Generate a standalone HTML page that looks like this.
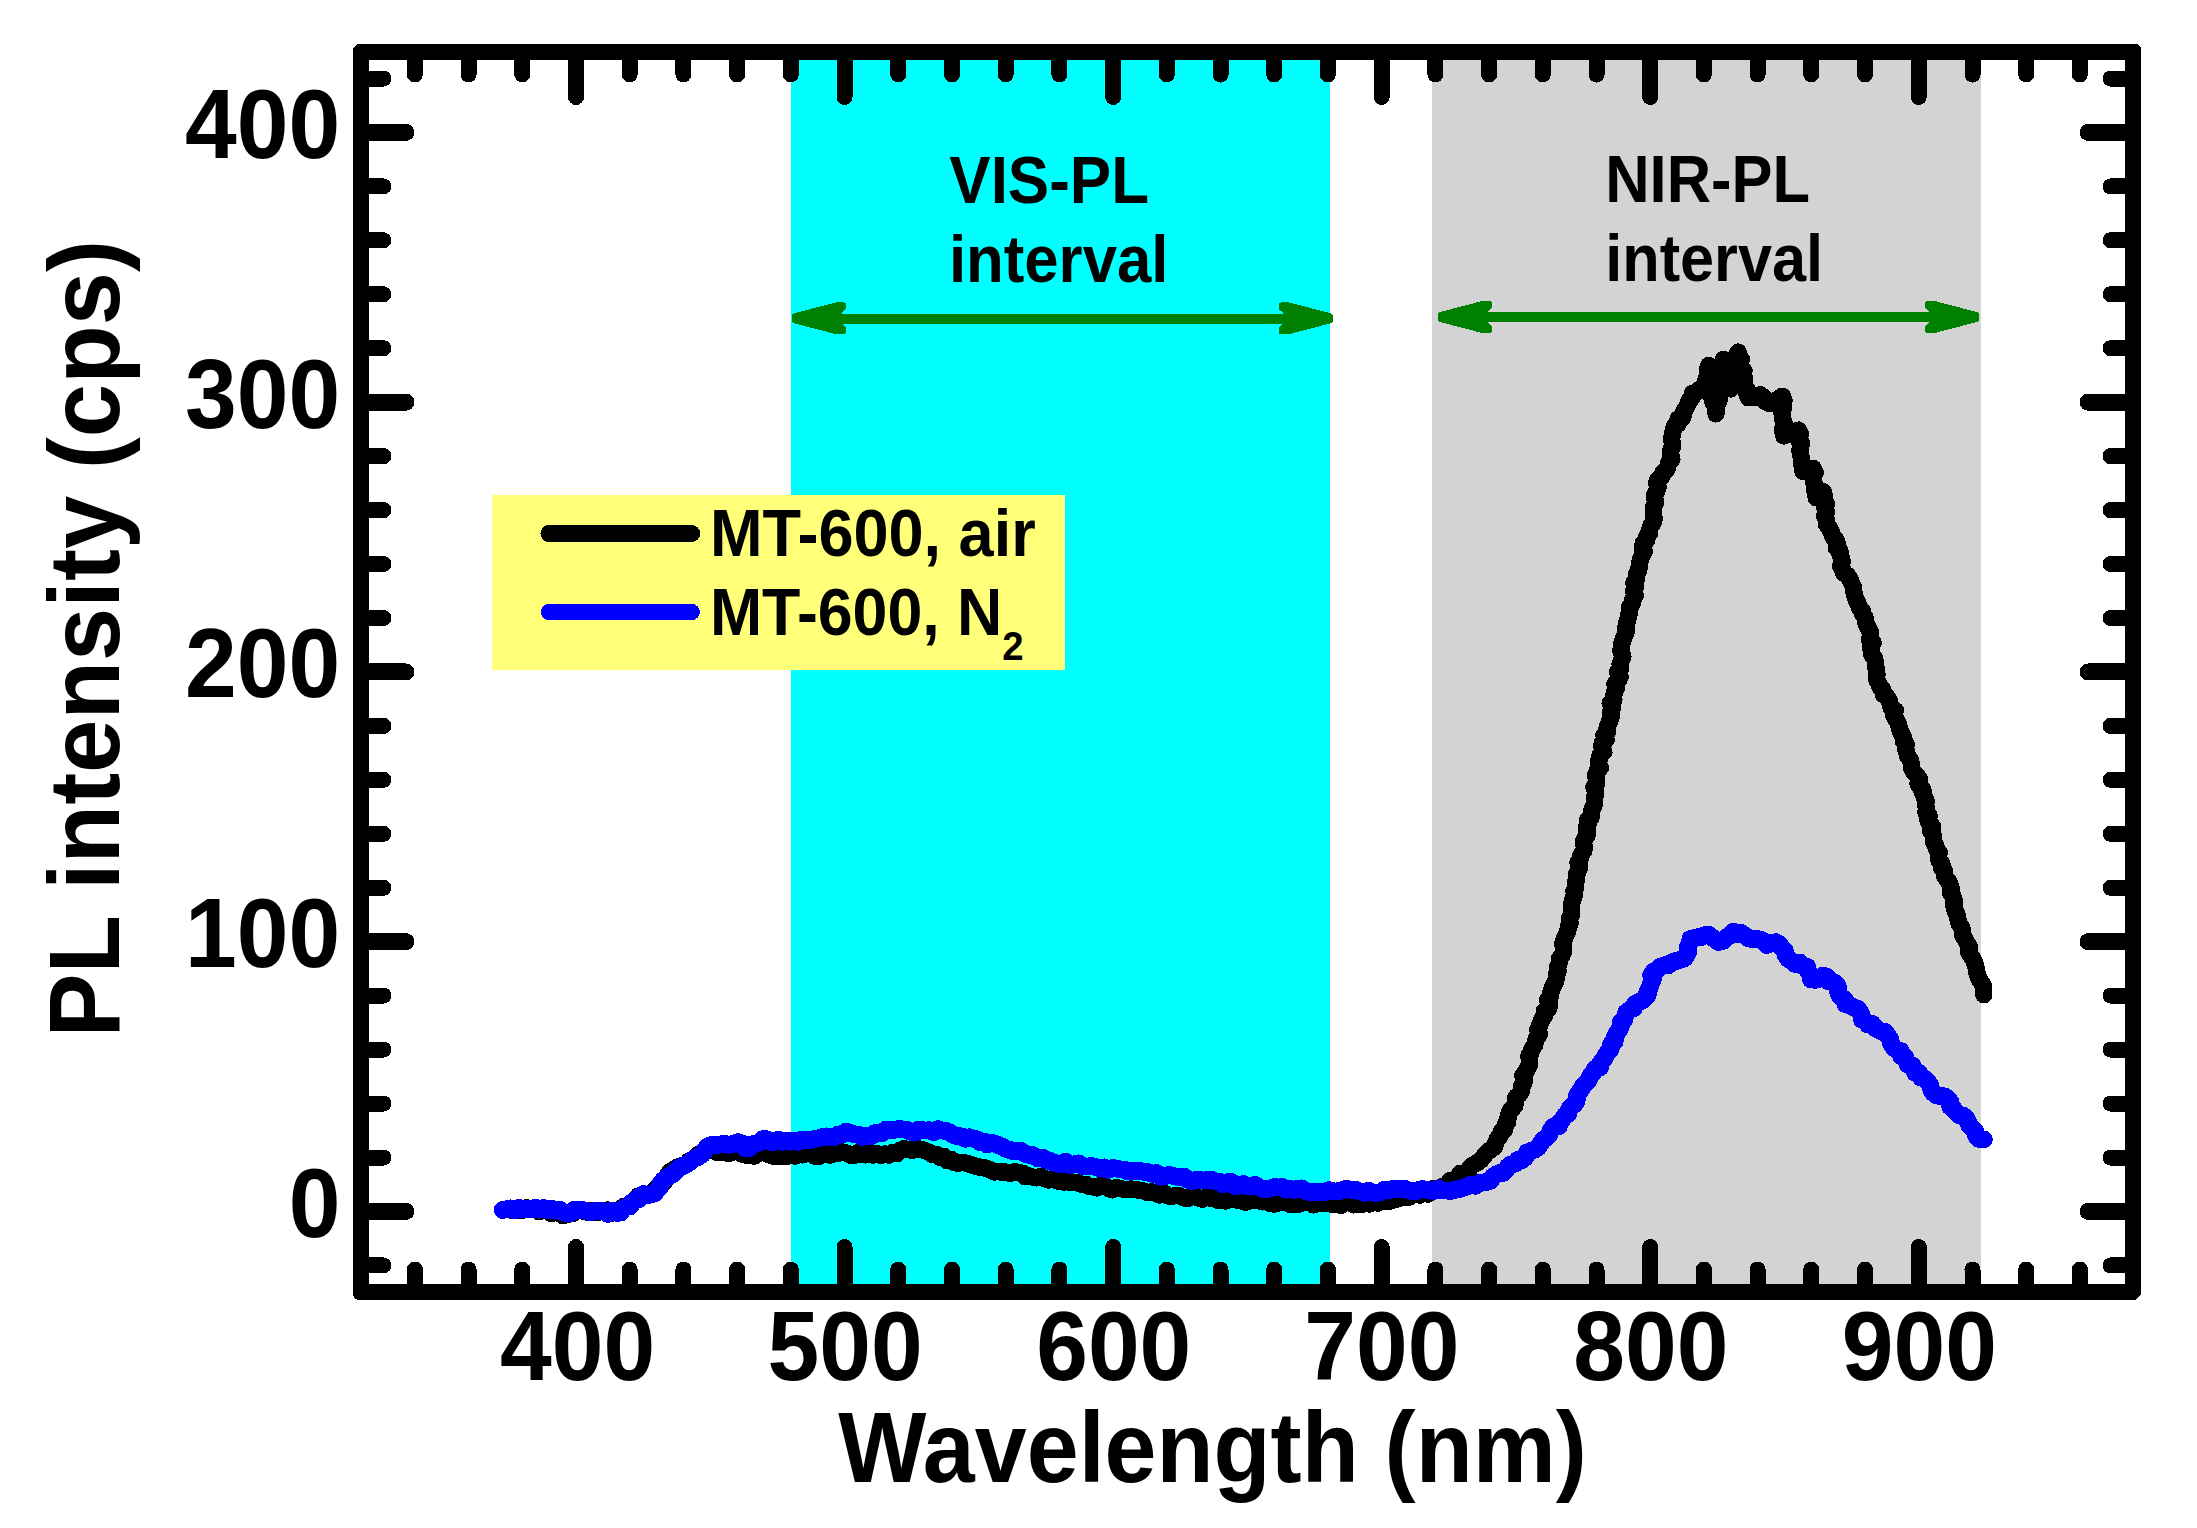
<!DOCTYPE html>
<html lang="en">
<head>
<meta charset="utf-8">
<title>PL intensity vs wavelength</title>
<style>
html,body{margin:0;padding:0;background:#fff;}
body{width:2197px;height:1528px;overflow:hidden;font-family:'Liberation Sans', Arial, Helvetica, sans-serif;}
svg{display:block;}
</style>
</head>
<body>
<svg width="2197" height="1528" viewBox="0 0 2197 1528" font-family="'Liberation Sans', Arial, Helvetica, sans-serif" font-weight="bold" shape-rendering="crispEdges">
<rect width="2197" height="1528" fill="#fff"/>
<!-- shaded intervals -->
<rect x="790.9" y="52.0" width="539.1" height="1240.0" fill="#00ffff"/>
<rect x="1431.9" y="52.0" width="548.9" height="1240.0" fill="#d3d3d3"/>
<!-- legend box -->
<rect x="492" y="494.8" width="573.3" height="175" fill="#ffff7a"/>
<!-- interval captions -->
<g fill="#000">
<text transform="translate(949.30,203.2) scale(0.9296,1)" font-size="66.7">VIS-PL</text>
<text transform="translate(948.90,281.8) scale(0.9253,1)" font-size="66.7">interval</text>
<text transform="translate(1605.22,202.1) scale(0.9212,1)" font-size="66.7">NIR-PL</text>
<text transform="translate(1605.23,281.0) scale(0.9183,1)" font-size="66.7">interval</text>
</g>
<g fill="#008000">
<rect x="832.0" y="314.0" width="460.9" height="10"/><path d="M792.0,315.7 Q792.2,313.8 794.1,313.3 L836.3,302.3 L843.6,302.3 Q846.0,302.3 846.0,304.7 L846.0,309.0 L841.5,313.3 L841.5,323.3 L846.0,327.6 L846.0,331.9 Q846.0,334.3 843.6,334.3 L836.3,334.3 L794.1,323.3 Q792.2,322.8 792.0,320.9 Z"/><path d="M1332.9,315.7 Q1332.7,313.8 1330.8,313.3 L1288.6,302.3 L1281.3,302.3 Q1278.9,302.3 1278.9,304.7 L1278.9,309.0 L1283.4,313.3 L1283.4,323.3 L1278.9,327.6 L1278.9,331.9 Q1278.9,334.3 1281.3,334.3 L1288.6,334.3 L1330.8,323.3 Q1332.7,322.8 1332.9,320.9 Z"/>
<rect x="1477.9" y="312.0" width="461.0" height="10"/><path d="M1437.9,314.4 Q1438.1,312.5 1440.0,312.0 L1482.2,301.0 L1489.5,301.0 Q1491.9,301.0 1491.9,303.4 L1491.9,307.7 L1487.4,312.0 L1487.4,322.0 L1491.9,326.3 L1491.9,330.6 Q1491.9,333.0 1489.5,333.0 L1482.2,333.0 L1440.0,322.0 Q1438.1,321.5 1437.9,319.6 Z"/><path d="M1978.9,314.4 Q1978.7,312.5 1976.8,312.0 L1934.6,301.0 L1927.3,301.0 Q1924.9,301.0 1924.9,303.4 L1924.9,307.7 L1929.4,312.0 L1929.4,322.0 L1924.9,326.3 L1924.9,330.6 Q1924.9,333.0 1927.3,333.0 L1934.6,333.0 L1976.8,322.0 Q1978.7,321.5 1978.9,319.6 Z"/>
</g>
<!-- data -->
<g fill="none" stroke-linejoin="round" stroke-linecap="round">
<path stroke="#000" stroke-width="17.3" d="M502.6,1210.0 L506.6,1208.9 L510.7,1210.0 L514.8,1209.3 L518.8,1210.1 L522.9,1210.1 L526.9,1207.8 L531.0,1209.5 L535.3,1208.0 L539.1,1211.7 L543.4,1209.8 L547.6,1210.1 L551.4,1213.6 L555.7,1212.0 L559.2,1212.9 L562.2,1215.3 L566.0,1215.0 L569.5,1213.8 L573.2,1213.3 L576.1,1210.3 L580.0,1210.5 L583.9,1211.2 L587.9,1212.3 L591.9,1211.0 L595.8,1212.1 L599.8,1211.9 L603.8,1211.4 L607.7,1210.0 L611.2,1213.2 L615.0,1212.5 L618.4,1211.3 L621.2,1208.7 L623.9,1206.2 L628.0,1206.3 L631.6,1204.8 L633.0,1201.1 L636.3,1199.3 L638.2,1196.1 L642.2,1196.7 L645.7,1195.1 L649.6,1195.0 L652.8,1192.5 L654.9,1189.4 L658.5,1187.7 L659.9,1184.0 L663.8,1182.4 L666.0,1179.5 L667.3,1175.7 L670.0,1171.8 L673.8,1169.4 L677.6,1167.1 L681.9,1165.5 L686.5,1164.9 L689.1,1160.9 L693.1,1159.4 L696.5,1156.8 L699.2,1153.9 L702.9,1152.3 L706.0,1150.0 L709.6,1150.2 L713.1,1150.7 L716.4,1152.2 L720.0,1152.5 L724.5,1152.5 L729.0,1153.4 L733.4,1152.1 L737.8,1151.0 L741.3,1154.0 L745.5,1155.0 L750.0,1155.0 L754.1,1156.2 L757.6,1154.2 L761.0,1151.4 L765.0,1152.0 L768.4,1154.4 L772.0,1155.8 L775.8,1156.6 L780.0,1156.1 L783.8,1156.1 L787.6,1156.4 L791.2,1154.0 L795.2,1156.2 L798.9,1154.6 L802.8,1154.9 L806.7,1153.7 L810.5,1152.9 L814.4,1156.0 L818.3,1156.6 L822.2,1154.6 L826.1,1152.6 L830.4,1155.1 L834.2,1153.2 L838.3,1153.2 L842.3,1152.0 L846.1,1152.8 L849.9,1155.0 L853.7,1155.6 L857.8,1152.5 L861.6,1154.6 L865.5,1154.9 L869.3,1152.5 L873.3,1155.1 L877.1,1153.5 L881.1,1155.5 L884.9,1153.9 L889.1,1155.1 L892.7,1152.5 L896.9,1153.7 L900.3,1150.2 L904.0,1148.6 L908.2,1149.5 L912.5,1150.3 L917.1,1148.4 L921.4,1149.4 L925.6,1151.0 L929.4,1152.3 L932.7,1154.7 L937.1,1154.6 L940.2,1157.5 L944.3,1156.6 L947.1,1160.6 L951.3,1159.3 L954.3,1162.7 L958.0,1163.3 L962.0,1162.6 L965.8,1163.0 L969.3,1164.1 L972.9,1165.2 L976.5,1166.6 L980.2,1167.2 L983.9,1167.7 L987.3,1168.8 L990.8,1169.9 L994.0,1172.0 L997.9,1171.2 L1001.4,1172.1 L1005.8,1172.0 L1010.1,1173.3 L1014.6,1171.6 L1018.9,1172.8 L1022.6,1173.1 L1025.3,1176.7 L1029.3,1175.9 L1032.8,1177.1 L1036.3,1177.9 L1040.7,1176.5 L1044.5,1178.7 L1048.5,1180.0 L1052.9,1178.3 L1056.7,1180.8 L1060.3,1181.6 L1063.9,1182.1 L1067.8,1180.1 L1071.2,1182.8 L1075.0,1182.5 L1078.6,1183.0 L1082.0,1184.6 L1086.0,1184.3 L1089.3,1186.6 L1093.1,1186.7 L1096.9,1187.9 L1101.0,1185.3 L1104.9,1185.8 L1108.6,1188.5 L1112.4,1189.9 L1116.4,1187.4 L1120.3,1188.5 L1124.1,1189.3 L1128.0,1189.2 L1132.0,1189.1 L1135.9,1189.8 L1139.9,1190.2 L1143.8,1191.0 L1147.6,1192.5 L1151.7,1191.9 L1155.6,1192.8 L1159.3,1195.0 L1163.6,1192.6 L1167.2,1195.3 L1171.1,1196.6 L1175.3,1195.5 L1179.2,1195.7 L1183.0,1197.4 L1186.8,1198.8 L1190.8,1196.8 L1194.7,1196.8 L1198.6,1197.9 L1202.4,1199.2 L1206.4,1197.0 L1210.3,1198.1 L1214.2,1198.3 L1218.0,1200.5 L1221.9,1199.2 L1225.7,1201.0 L1229.8,1198.5 L1233.6,1199.3 L1237.5,1200.2 L1241.6,1201.1 L1245.6,1202.3 L1249.8,1200.8 L1254.0,1200.2 L1258.1,1200.0 L1262.1,1201.9 L1266.3,1200.9 L1270.2,1203.6 L1274.3,1204.0 L1278.5,1202.9 L1282.4,1201.7 L1286.3,1202.2 L1290.1,1204.4 L1294.1,1203.8 L1297.9,1204.6 L1301.9,1202.8 L1305.8,1202.1 L1309.7,1202.8 L1313.5,1204.9 L1317.5,1202.9 L1321.3,1203.3 L1325.2,1203.7 L1329.1,1203.8 L1333.0,1204.2 L1337.1,1203.6 L1341.3,1205.4 L1345.2,1202.2 L1349.3,1201.3 L1353.6,1204.9 L1357.7,1204.4 L1361.8,1204.6 L1365.8,1202.2 L1370.0,1204.0 L1374.0,1202.0 L1378.0,1203.2 L1381.5,1199.9 L1385.6,1201.5 L1389.5,1201.3 L1393.2,1200.1 L1396.9,1199.1 L1400.6,1197.7 L1404.5,1197.4 L1408.4,1197.5 L1412.0,1195.5 L1415.7,1194.0 L1420.0,1195.1 L1423.5,1193.0 L1427.9,1194.1 L1431.4,1192.0 L1433.6,1188.5 L1438.5,1189.5 L1441.3,1186.9 L1444.9,1185.7 L1448.0,1183.7 L1450.3,1180.4 L1454.7,1180.0 L1457.7,1177.0 L1460.4,1173.2 L1464.9,1173.1 L1468.7,1171.2 L1470.4,1166.8 L1473.8,1164.6 L1477.5,1162.6 L1481.1,1159.9 L1483.8,1156.4 L1486.6,1152.9 L1490.0,1150.0 L1494.1,1147.4 L1495.6,1143.0 L1497.4,1138.7 L1500.5,1135.4 L1501.1,1131.6 L1504.8,1129.3 L1504.9,1125.3 L1507.5,1122.4 L1507.9,1118.6 L1508.8,1115.0 L1509.7,1111.4 L1512.4,1108.6 L1514.9,1105.7 L1515.2,1101.9 L1515.6,1097.5 L1519.4,1094.5 L1521.5,1090.8 L1521.5,1086.2 L1523.7,1083.2 L1524.8,1079.8 L1522.8,1075.4 L1525.7,1072.6 L1527.4,1068.5 L1529.5,1064.6 L1529.3,1060.0 L1528.9,1055.7 L1531.0,1052.3 L1532.3,1048.6 L1534.6,1045.2 L1535.5,1041.4 L1536.9,1037.7 L1539.4,1034.4 L1537.8,1029.7 L1539.2,1026.0 L1540.8,1022.4 L1542.1,1018.7 L1544.8,1015.5 L1544.2,1011.3 L1548.8,1008.7 L1549.5,1004.9 L1547.6,1000.3 L1550.3,997.1 L1550.7,993.2 L1551.8,989.6 L1553.0,985.9 L1555.3,982.6 L1556.1,978.8 L1556.4,974.9 L1558.0,971.4 L1557.7,967.1 L1559.2,963.2 L1559.3,959.0 L1562.0,955.4 L1563.5,951.5 L1563.2,947.2 L1562.9,942.9 L1564.2,939.0 L1565.9,935.1 L1567.8,931.3 L1568.3,927.2 L1570.1,923.4 L1569.2,919.1 L1571.5,915.3 L1571.5,911.2 L1571.4,907.1 L1571.8,903.0 L1573.0,899.1 L1574.5,895.2 L1574.0,891.0 L1575.8,887.1 L1575.7,883.0 L1576.3,879.0 L1576.3,874.8 L1578.2,871.0 L1579.7,867.1 L1578.0,862.6 L1580.2,858.9 L1581.0,854.9 L1583.6,851.2 L1584.6,847.3 L1583.2,842.8 L1584.5,838.9 L1587.0,835.6 L1587.5,831.8 L1586.4,827.6 L1588.1,824.1 L1587.7,820.1 L1591.3,817.1 L1591.6,813.2 L1591.9,809.4 L1594.0,806.0 L1594.3,802.2 L1594.4,798.4 L1595.3,794.8 L1595.2,790.9 L1594.0,786.9 L1596.5,783.6 L1596.8,779.8 L1595.6,775.4 L1597.0,771.5 L1600.3,767.9 L1598.2,763.3 L1599.2,759.3 L1600.0,755.3 L1603.8,751.9 L1601.9,747.3 L1602.1,743.2 L1606.1,739.8 L1604.0,735.2 L1607.7,731.7 L1607.1,727.4 L1608.6,723.6 L1610.1,719.8 L1611.3,716.0 L1610.7,711.8 L1612.4,708.0 L1610.2,703.5 L1613.9,700.2 L1613.7,696.0 L1614.5,692.1 L1616.3,688.4 L1614.9,683.9 L1618.4,680.6 L1620.1,676.9 L1617.7,672.1 L1620.4,668.6 L1620.1,664.3 L1621.5,660.2 L1622.9,656.1 L1621.0,651.6 L1621.2,647.4 L1621.9,643.2 L1623.3,639.1 L1624.7,635.3 L1626.2,631.5 L1625.8,627.2 L1626.7,623.3 L1627.8,619.4 L1628.6,615.4 L1629.8,611.6 L1629.5,607.3 L1632.1,603.8 L1632.7,599.6 L1635.2,595.7 L1633.6,591.1 L1635.6,587.1 L1633.9,582.6 L1636.6,578.7 L1636.5,574.4 L1638.5,570.8 L1639.2,566.9 L1639.7,562.9 L1640.6,559.1 L1642.2,555.4 L1644.2,551.8 L1642.4,547.2 L1643.2,543.3 L1646.7,540.2 L1646.8,536.1 L1649.8,533.2 L1649.8,529.0 L1651.0,525.4 L1653.5,522.3 L1654.2,518.4 L1653.2,514.4 L1653.8,510.5 L1653.8,506.6 L1655.6,502.7 L1654.8,498.7 L1654.7,494.8 L1656.8,491.0 L1658.1,487.1 L1656.6,483.1 L1658.1,479.3 L1661.7,476.8 L1662.9,472.8 L1666.5,470.4 L1667.8,466.4 L1668.9,462.4 L1671.9,459.5 L1671.0,455.2 L1670.4,451.0 L1672.4,446.9 L1672.2,442.7 L1671.6,438.4 L1672.5,434.3 L1673.3,430.1 L1674.6,426.3 L1678.2,423.8 L1678.0,419.1 L1682.9,417.3 L1683.1,412.9 L1685.1,409.5 L1687.3,405.6 L1688.7,401.3 L1691.9,397.9 L1692.5,393.3 L1697.1,391.9 L1700.5,388.6 L1704.3,385.9 L1705.1,381.8 L1706.9,377.8 L1708.3,373.8 L1707.4,369.3 L1708.7,365.3 L1708.4,369.5 L1708.1,373.7 L1710.7,377.4 L1712.2,381.3 L1712.8,385.4 L1711.5,389.7 L1712.3,393.8 L1711.8,398.0 L1712.8,402.0 L1715.8,405.6 L1716.6,409.7 L1716.0,413.9 L1715.6,409.9 L1715.8,405.9 L1718.4,402.3 L1719.5,398.5 L1720.2,394.7 L1718.2,390.4 L1721.1,386.8 L1719.5,382.7 L1720.5,378.8 L1722.2,375.1 L1720.2,370.9 L1720.7,367.0 L1724.2,363.5 L1723.4,359.4 L1725.1,362.9 L1725.8,366.6 L1725.9,370.5 L1726.4,374.3 L1729.9,377.4 L1729.6,381.4 L1730.1,385.2 L1730.8,388.9 L1731.6,384.8 L1731.3,380.5 L1733.6,376.7 L1735.8,372.9 L1734.4,368.4 L1735.8,364.4 L1735.0,360.0 L1736.4,356.0 L1738.1,352.1 L1738.3,356.0 L1741.3,359.4 L1739.2,363.8 L1739.9,367.7 L1744.0,370.7 L1741.5,375.3 L1744.6,378.6 L1743.9,382.7 L1744.8,386.5 L1747.5,389.9 L1746.9,394.1 L1748.4,397.7 L1752.5,397.3 L1756.6,397.0 L1760.2,394.8 L1763.8,397.1 L1765.3,401.4 L1769.0,403.6 L1773.2,403.4 L1776.0,400.5 L1779.0,398.2 L1782.3,396.2 L1784.0,400.1 L1782.6,404.2 L1783.3,408.1 L1782.0,412.2 L1782.3,416.1 L1782.9,420.1 L1784.6,424.0 L1782.8,428.1 L1783.0,432.0 L1783.7,436.0 L1786.9,433.3 L1791.7,434.5 L1795.0,432.2 L1798.5,430.1 L1800.4,434.1 L1797.7,438.5 L1801.2,442.3 L1800.9,446.5 L1799.8,450.8 L1800.8,454.9 L1801.4,459.0 L1801.4,463.1 L1802.6,467.2 L1802.9,471.3 L1806.1,469.6 L1809.4,468.1 L1813.2,468.4 L1815.3,472.4 L1813.2,476.9 L1813.4,481.1 L1814.7,485.2 L1814.3,489.5 L1816.2,493.5 L1816.1,497.8 L1819.2,494.1 L1823.5,491.9 L1824.3,495.9 L1822.7,500.1 L1826.4,503.9 L1824.9,508.1 L1826.3,512.1 L1824.6,516.3 L1826.6,520.2 L1826.4,524.3 L1828.9,527.1 L1830.5,530.4 L1832.0,533.8 L1833.1,537.4 L1835.9,540.0 L1837.3,543.5 L1836.2,547.6 L1839.9,550.7 L1840.0,554.5 L1841.5,558.0 L1842.3,561.7 L1840.5,566.0 L1842.4,569.4 L1843.9,573.4 L1847.9,575.8 L1850.2,579.4 L1851.6,583.4 L1853.6,587.1 L1853.8,591.5 L1854.7,595.7 L1856.2,599.7 L1858.0,603.7 L1859.5,607.7 L1862.3,610.6 L1862.8,614.4 L1865.0,617.5 L1865.3,621.5 L1866.6,625.0 L1868.3,628.3 L1870.2,631.8 L1870.8,635.5 L1869.4,639.6 L1873.1,642.7 L1870.8,647.0 L1871.2,650.7 L1871.7,654.5 L1874.2,657.8 L1875.5,661.9 L1875.7,666.2 L1876.4,670.5 L1877.0,674.7 L1876.5,679.2 L1878.5,683.1 L1880.1,687.2 L1883.0,689.9 L1883.4,694.4 L1886.8,696.8 L1889.0,700.0 L1890.1,703.9 L1891.1,707.8 L1895.3,710.5 L1893.9,715.4 L1895.7,719.0 L1897.8,722.5 L1898.9,726.2 L1899.9,729.9 L1901.3,733.5 L1903.4,736.9 L1903.2,741.0 L1906.2,744.1 L1905.5,748.3 L1906.6,752.0 L1907.8,756.2 L1910.2,759.7 L1911.5,763.9 L1911.8,768.4 L1913.7,772.2 L1916.9,775.5 L1919.4,778.8 L1918.0,783.2 L1919.7,786.7 L1923.0,789.7 L1922.9,793.8 L1924.5,797.3 L1926.2,800.8 L1925.7,805.0 L1926.5,808.7 L1925.9,812.8 L1929.2,815.9 L1928.0,820.1 L1929.6,823.6 L1932.7,826.7 L1930.8,831.1 L1933.1,834.4 L1933.8,838.2 L1933.7,842.2 L1935.6,845.7 L1936.6,849.4 L1939.2,852.6 L1938.5,856.8 L1939.1,860.6 L1941.9,863.8 L1941.6,867.9 L1944.4,871.1 L1944.3,875.2 L1946.4,878.5 L1949.0,881.8 L1950.3,885.4 L1951.3,889.1 L1950.8,893.3 L1953.0,896.7 L1954.2,900.5 L1953.9,904.6 L1954.2,908.5 L1955.9,912.1 L1957.4,915.8 L1958.1,919.6 L1959.0,923.7 L1961.7,927.2 L1962.5,931.4 L1962.8,935.7 L1965.2,939.3 L1967.1,943.1 L1969.5,946.7 L1968.4,951.7 L1970.6,955.3 L1973.0,958.9 L1974.7,962.7 L1975.9,966.6 L1976.4,970.7 L1977.4,974.7 L1978.9,978.5 L1981.2,982.3 L1983.3,986.1 L1983.7,990.4 L1983.8,994.8"/>
<path stroke="#0000ff" stroke-width="17.8" d="M502.6,1210.0 L506.6,1209.2 L510.7,1208.4 L514.8,1210.3 L518.8,1207.8 L522.9,1209.6 L526.9,1208.8 L531.0,1209.2 L535.2,1207.7 L539.2,1209.7 L543.5,1208.1 L547.5,1209.9 L551.7,1208.7 L555.7,1210.7 L559.5,1209.8 L562.6,1211.9 L566.0,1212.9 L570.2,1213.5 L573.7,1210.0 L577.8,1209.6 L582.0,1210.0 L586.3,1210.8 L590.6,1212.3 L595.1,1211.1 L599.5,1210.7 L603.8,1211.4 L607.9,1213.8 L612.7,1210.6 L616.9,1212.9 L620.8,1212.5 L623.1,1208.8 L626.1,1206.7 L630.0,1206.3 L631.5,1202.7 L634.6,1200.7 L638.5,1199.5 L640.2,1196.1 L643.6,1194.1 L647.6,1195.0 L651.3,1194.5 L654.8,1193.2 L656.8,1190.0 L659.8,1187.5 L660.7,1183.3 L663.1,1180.4 L666.0,1177.9 L669.3,1175.7 L673.4,1173.7 L676.4,1170.4 L679.8,1167.4 L683.9,1165.5 L687.7,1163.6 L691.1,1161.0 L694.4,1158.3 L698.5,1156.8 L702.3,1154.2 L704.9,1150.5 L707.2,1146.6 L711.4,1144.9 L716.0,1145.4 L720.3,1144.4 L724.7,1143.9 L729.2,1144.8 L733.5,1143.7 L737.8,1142.2 L742.1,1143.4 L744.7,1147.8 L749.4,1148.1 L751.9,1144.6 L755.8,1143.4 L759.9,1142.4 L762.6,1139.3 L767.4,1139.4 L771.3,1142.2 L774.9,1141.8 L778.4,1139.7 L782.3,1141.8 L785.9,1140.8 L790.0,1141.7 L794.0,1140.8 L798.1,1141.9 L802.1,1139.5 L806.2,1140.1 L810.4,1140.1 L814.4,1139.0 L818.5,1138.2 L822.5,1137.0 L826.6,1136.4 L830.7,1137.1 L834.6,1137.0 L838.2,1134.5 L842.2,1134.6 L845.7,1131.7 L849.9,1132.8 L854.1,1134.3 L858.6,1134.8 L862.7,1136.9 L867.4,1135.7 L871.4,1136.1 L874.7,1133.2 L878.5,1132.8 L882.5,1133.0 L885.7,1129.7 L889.8,1130.6 L893.6,1129.9 L898.1,1129.1 L902.5,1129.4 L906.9,1129.7 L911.1,1132.0 L914.8,1132.7 L918.2,1129.8 L921.9,1129.9 L925.6,1130.6 L929.7,1130.2 L933.7,1132.2 L937.9,1129.1 L941.9,1130.6 L946.0,1130.9 L949.9,1132.5 L953.5,1135.1 L957.6,1136.2 L962.0,1136.4 L965.3,1138.7 L969.5,1137.2 L973.0,1138.6 L976.7,1139.2 L979.9,1142.1 L983.9,1141.5 L987.0,1144.5 L991.6,1142.6 L995.2,1143.9 L998.8,1145.3 L1002.4,1146.6 L1005.7,1148.8 L1009.4,1149.7 L1012.9,1151.1 L1016.9,1150.8 L1020.8,1150.7 L1024.0,1153.3 L1027.6,1154.6 L1031.4,1154.8 L1034.8,1156.3 L1038.2,1158.6 L1042.2,1157.5 L1045.5,1159.7 L1049.4,1160.5 L1052.9,1162.4 L1056.7,1163.4 L1061.1,1164.1 L1065.5,1161.6 L1069.8,1165.0 L1074.2,1164.5 L1078.6,1163.4 L1082.5,1165.9 L1086.9,1166.6 L1091.5,1166.0 L1095.8,1167.1 L1100.0,1168.5 L1104.2,1167.4 L1108.0,1169.9 L1112.3,1168.0 L1116.4,1168.5 L1120.3,1169.5 L1124.4,1169.7 L1128.3,1171.5 L1132.4,1171.3 L1136.5,1170.7 L1140.6,1171.0 L1144.5,1172.0 L1148.5,1172.3 L1152.4,1173.9 L1156.6,1173.0 L1160.2,1176.8 L1164.4,1176.3 L1168.6,1174.9 L1172.5,1175.8 L1176.5,1176.7 L1180.5,1177.2 L1184.6,1176.8 L1188.3,1180.1 L1192.3,1181.2 L1196.5,1179.7 L1200.4,1180.1 L1204.3,1180.6 L1208.4,1179.5 L1212.3,1180.1 L1216.0,1181.5 L1220.0,1181.7 L1223.6,1184.4 L1227.8,1182.2 L1231.8,1182.2 L1235.2,1186.3 L1239.3,1185.2 L1243.4,1184.1 L1247.1,1186.2 L1251.0,1186.5 L1255.0,1184.8 L1258.8,1187.1 L1262.6,1189.1 L1266.5,1188.9 L1270.5,1188.5 L1274.5,1186.9 L1278.4,1187.6 L1282.3,1187.0 L1286.1,1189.7 L1290.0,1189.0 L1293.9,1190.2 L1297.9,1188.6 L1301.8,1188.4 L1305.6,1191.0 L1309.5,1191.9 L1313.4,1191.6 L1317.3,1191.7 L1321.2,1192.0 L1325.1,1191.9 L1329.2,1190.1 L1333.0,1191.4 L1336.9,1191.4 L1340.8,1190.7 L1344.7,1189.3 L1348.6,1189.3 L1352.5,1190.2 L1356.4,1190.1 L1360.4,1191.8 L1364.3,1192.8 L1368.2,1190.7 L1372.1,1192.6 L1376.0,1192.7 L1379.9,1192.5 L1383.8,1190.1 L1387.7,1190.6 L1391.8,1189.3 L1396.0,1189.2 L1400.1,1188.9 L1404.3,1188.8 L1408.5,1190.3 L1412.7,1191.2 L1416.8,1190.8 L1420.9,1189.3 L1425.1,1189.4 L1429.3,1190.4 L1433.4,1191.2 L1437.8,1188.5 L1441.9,1190.4 L1446.2,1190.5 L1450.5,1190.9 L1454.6,1189.9 L1458.7,1189.2 L1462.8,1187.7 L1467.0,1186.6 L1470.9,1184.4 L1475.7,1185.7 L1479.4,1182.9 L1483.8,1182.5 L1487.6,1181.7 L1491.0,1180.4 L1493.0,1176.5 L1496.2,1174.6 L1499.5,1173.1 L1503.6,1172.8 L1506.2,1170.1 L1508.2,1166.3 L1511.3,1164.3 L1515.2,1163.7 L1517.5,1160.1 L1522.5,1159.9 L1525.4,1157.1 L1526.9,1152.5 L1530.9,1151.1 L1534.9,1149.4 L1538.4,1147.1 L1540.7,1143.4 L1543.1,1139.8 L1546.6,1137.5 L1549.4,1134.5 L1550.8,1130.3 L1553.2,1126.8 L1558.8,1126.2 L1560.0,1121.8 L1562.7,1119.2 L1564.6,1115.9 L1568.2,1113.8 L1568.8,1109.6 L1571.3,1106.8 L1574.7,1104.2 L1576.6,1100.7 L1576.6,1096.1 L1578.9,1092.8 L1581.1,1089.5 L1583.0,1086.0 L1586.0,1083.2 L1588.8,1080.1 L1590.3,1075.9 L1593.3,1072.9 L1594.9,1068.9 L1600.0,1067.4 L1600.7,1062.7 L1603.7,1059.7 L1605.4,1055.8 L1607.8,1052.3 L1610.8,1049.1 L1611.0,1044.4 L1614.6,1041.5 L1615.0,1037.0 L1616.9,1033.2 L1618.9,1029.9 L1620.8,1026.5 L1620.9,1022.1 L1624.2,1019.6 L1625.2,1015.7 L1626.5,1012.0 L1630.1,1009.6 L1633.8,1008.1 L1635.2,1003.7 L1638.9,1002.2 L1642.5,1000.5 L1645.0,997.5 L1647.8,994.9 L1648.1,990.8 L1649.8,987.1 L1651.0,983.2 L1652.8,979.5 L1651.2,974.9 L1653.7,971.4 L1657.3,969.8 L1660.3,966.9 L1663.9,965.3 L1668.3,965.3 L1671.4,962.5 L1675.8,961.1 L1680.3,959.8 L1684.6,958.1 L1686.8,954.6 L1688.5,950.9 L1687.9,946.6 L1689.8,943.0 L1690.5,939.0 L1694.0,938.1 L1697.6,937.3 L1701.3,937.1 L1704.6,935.3 L1708.2,934.6 L1711.6,937.1 L1715.1,939.4 L1718.5,941.9 L1723.2,940.8 L1726.3,937.4 L1730.4,935.4 L1733.2,931.6 L1736.6,934.5 L1741.3,933.1 L1744.9,935.5 L1748.3,938.2 L1752.4,939.1 L1756.7,939.0 L1760.9,939.7 L1764.3,941.6 L1767.0,944.9 L1771.3,943.3 L1775.7,942.2 L1779.6,944.2 L1781.7,947.8 L1784.9,950.5 L1785.6,955.1 L1787.9,958.5 L1791.4,960.9 L1794.8,963.9 L1799.7,962.6 L1802.9,966.1 L1807.1,966.8 L1807.8,971.2 L1811.1,974.8 L1811.0,979.5 L1815.4,979.7 L1819.5,978.7 L1822.8,975.6 L1826.9,976.9 L1828.7,981.5 L1833.4,981.9 L1836.6,984.4 L1838.4,988.3 L1838.3,993.1 L1840.7,996.8 L1844.9,999.6 L1845.4,1004.1 L1849.8,1005.5 L1853.9,1007.4 L1858.2,1009.0 L1860.1,1012.4 L1861.9,1015.8 L1862.1,1019.8 L1865.6,1021.1 L1867.9,1024.5 L1872.5,1024.0 L1874.5,1027.8 L1877.8,1029.6 L1881.2,1031.4 L1885.3,1031.9 L1887.6,1035.5 L1890.2,1039.1 L1891.1,1043.6 L1893.5,1047.3 L1896.4,1049.8 L1900.5,1050.9 L1901.1,1056.1 L1905.3,1057.1 L1906.3,1060.9 L1907.6,1064.4 L1912.5,1065.7 L1913.9,1069.2 L1915.1,1072.8 L1919.3,1073.2 L1921.1,1077.7 L1924.9,1078.7 L1927.7,1081.7 L1930.1,1084.8 L1931.1,1088.8 L1932.8,1092.4 L1936.2,1095.3 L1940.3,1096.2 L1944.6,1096.3 L1947.7,1098.9 L1950.4,1101.8 L1950.3,1106.8 L1953.7,1109.1 L1956.3,1112.1 L1958.7,1115.2 L1963.2,1115.7 L1966.3,1118.1 L1968.1,1121.9 L1969.4,1125.7 L1972.3,1128.6 L1975.5,1131.3 L1976.0,1135.6 L1979.1,1139.1 L1983.8,1139.5"/>
</g>
<!-- legend -->
<g stroke-linecap="round">
<path d="M549,533.5 H691.6" stroke="#000" stroke-width="17"/>
<path d="M548.8,612 H691.8" stroke="#0000ff" stroke-width="16.2"/>
</g>
<g fill="#000">
<text transform="translate(709.89,555.9) scale(0.9525,1)" font-size="66.2">MT-600, air</text>
<text transform="translate(709.91,634.8) scale(0.9466,1)" font-size="66.2">MT-600, N<tspan font-size="40.5" dy="25.1">2</tspan></text>
</g>
<!-- axes -->
<g stroke="#000" stroke-width="16" fill="none" stroke-linecap="round">
<path d="M414.9,1288.0 v-18.5 M414.9,56.0 v18.5 M468.6,1288.0 v-18.5 M468.6,56.0 v18.5 M522.3,1288.0 v-18.5 M522.3,56.0 v18.5 M576.0,1288.0 v-41.0 M576.0,56.0 v41.0 M629.7,1288.0 v-18.5 M629.7,56.0 v18.5 M683.4,1288.0 v-18.5 M683.4,56.0 v18.5 M737.1,1288.0 v-18.5 M737.1,56.0 v18.5 M790.8,1288.0 v-18.5 M790.8,56.0 v18.5 M844.5,1288.0 v-41.0 M844.5,56.0 v41.0 M898.3,1288.0 v-18.5 M898.3,56.0 v18.5 M952.0,1288.0 v-18.5 M952.0,56.0 v18.5 M1005.7,1288.0 v-18.5 M1005.7,56.0 v18.5 M1059.4,1288.0 v-18.5 M1059.4,56.0 v18.5 M1113.1,1288.0 v-41.0 M1113.1,56.0 v41.0 M1166.8,1288.0 v-18.5 M1166.8,56.0 v18.5 M1220.5,1288.0 v-18.5 M1220.5,56.0 v18.5 M1274.2,1288.0 v-18.5 M1274.2,56.0 v18.5 M1327.9,1288.0 v-18.5 M1327.9,56.0 v18.5 M1381.7,1288.0 v-41.0 M1381.7,56.0 v41.0 M1435.4,1288.0 v-18.5 M1435.4,56.0 v18.5 M1489.1,1288.0 v-18.5 M1489.1,56.0 v18.5 M1542.8,1288.0 v-18.5 M1542.8,56.0 v18.5 M1596.5,1288.0 v-18.5 M1596.5,56.0 v18.5 M1650.2,1288.0 v-41.0 M1650.2,56.0 v41.0 M1703.9,1288.0 v-18.5 M1703.9,56.0 v18.5 M1757.6,1288.0 v-18.5 M1757.6,56.0 v18.5 M1811.3,1288.0 v-18.5 M1811.3,56.0 v18.5 M1865.0,1288.0 v-18.5 M1865.0,56.0 v18.5 M1918.8,1288.0 v-41.0 M1918.8,56.0 v41.0 M1972.5,1288.0 v-18.5 M1972.5,56.0 v18.5 M2026.2,1288.0 v-18.5 M2026.2,56.0 v18.5 M2079.9,1288.0 v-18.5 M2079.9,56.0 v18.5 M365.0,1265.4 h18.5 M2129.0,1265.4 h-18.5 M365.0,1157.5 h18.5 M2129.0,1157.5 h-18.5 M365.0,1103.5 h18.5 M2129.0,1103.5 h-18.5 M365.0,1049.6 h18.5 M2129.0,1049.6 h-18.5 M365.0,995.6 h18.5 M2129.0,995.6 h-18.5 M365.0,887.8 h18.5 M2129.0,887.8 h-18.5 M365.0,833.8 h18.5 M2129.0,833.8 h-18.5 M365.0,779.8 h18.5 M2129.0,779.8 h-18.5 M365.0,725.9 h18.5 M2129.0,725.9 h-18.5 M365.0,618.0 h18.5 M2129.0,618.0 h-18.5 M365.0,564.0 h18.5 M2129.0,564.0 h-18.5 M365.0,510.1 h18.5 M2129.0,510.1 h-18.5 M365.0,456.1 h18.5 M2129.0,456.1 h-18.5 M365.0,348.2 h18.5 M2129.0,348.2 h-18.5 M365.0,294.3 h18.5 M2129.0,294.3 h-18.5 M365.0,240.3 h18.5 M2129.0,240.3 h-18.5 M365.0,186.4 h18.5 M2129.0,186.4 h-18.5 M365.0,78.5 h18.5 M2129.0,78.5 h-18.5"/>
<path d="M365.0,1211.45 h41.0 M2129.0,1211.45 h-41.0 M365.0,941.70 h41.0 M2129.0,941.70 h-41.0 M365.0,671.95 h41.0 M2129.0,671.95 h-41.0 M365.0,402.20 h41.0 M2129.0,402.20 h-41.0 M365.0,132.45 h41.0 M2129.0,132.45 h-41.0" stroke-width="17"/>
</g>
<path fill="#000" fill-rule="evenodd" d="M358,43.7 H2135 A6,6 0 0 1 2141,49.7 V1294.85 L2136,1299.85 H359 A6,6 0 0 1 353,1293.85 V48.7 Z M369,59.8 V1284.1 H2125.1 V59.8 Z"/>
<g fill="#000">
<text transform="translate(500.00,1380.0) scale(0.9445,1)" font-size="98.5">400</text><text transform="translate(767.60,1380.0) scale(0.9445,1)" font-size="98.5">500</text><text transform="translate(1036.15,1380.0) scale(0.9445,1)" font-size="98.5">600</text><text transform="translate(1304.23,1380.0) scale(0.9445,1)" font-size="98.5">700</text><text transform="translate(1573.25,1380.0) scale(0.9445,1)" font-size="98.5">800</text><text transform="translate(1841.80,1380.0) scale(0.9445,1)" font-size="98.5">900</text><text transform="translate(288.83,1236.9) scale(0.9445,1)" font-size="98.5">0</text><text transform="translate(184.94,967.1) scale(0.9445,1)" font-size="98.5">100</text><text transform="translate(184.94,697.4) scale(0.9445,1)" font-size="98.5">200</text><text transform="translate(184.94,427.6) scale(0.9445,1)" font-size="98.5">300</text><text transform="translate(184.94,157.9) scale(0.9445,1)" font-size="98.5">400</text>
<text transform="translate(838.20,1482.0) scale(0.9357,1)" font-size="99.8">Wavelength (nm)</text>
<text transform="translate(118.9,1037.47) rotate(-90) scale(0.9609,1)" font-size="99.8">PL intensity (cps)</text>
</g>
</svg>
</body>
</html>
